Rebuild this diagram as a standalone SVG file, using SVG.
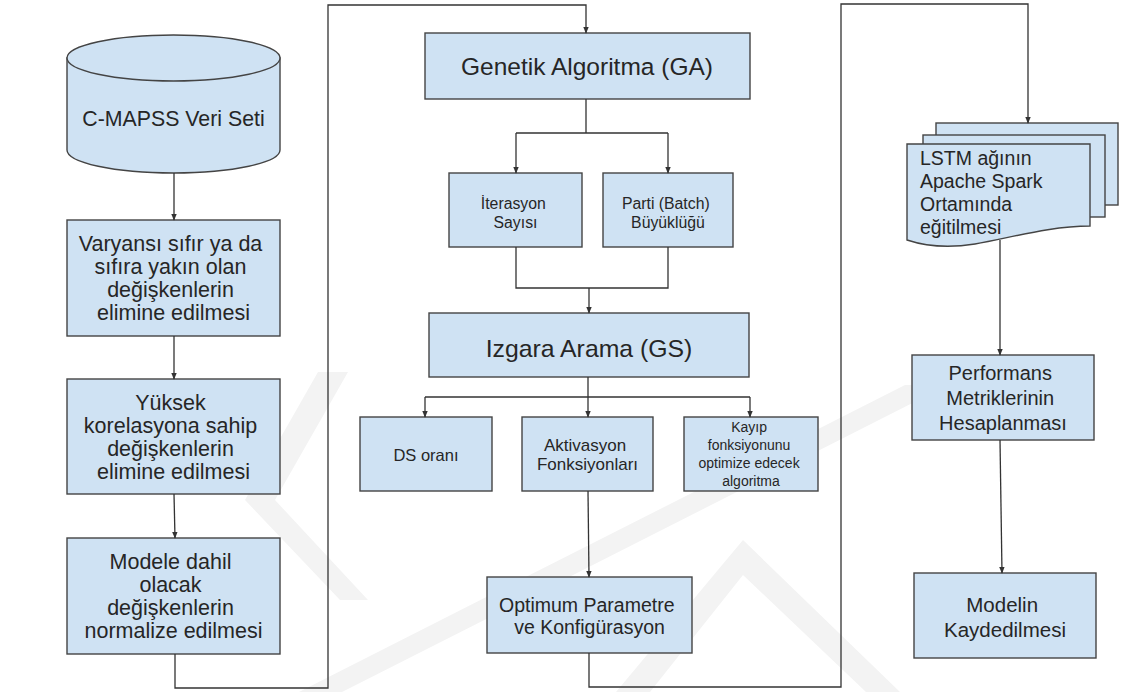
<svg xmlns="http://www.w3.org/2000/svg" width="1121" height="692" viewBox="0 0 1121 692">
  <style>
    .box { fill: #cfe2f3; stroke: #444444; stroke-width: 1.4; }
    .lbl { font-family: "Liberation Sans", Arial, sans-serif; fill: #262626; text-anchor: middle; }
    .lbl-left { font-family: "Liberation Sans", Arial, sans-serif; fill: #262626; text-anchor: start; }
    .conn { fill: none; stroke: #333333; stroke-width: 1.3; }
    .arrow { fill: none; stroke: #333333; stroke-width: 1.3; marker-end: url(#head); }
    .mark { fill: #f3f3f3; }
  </style>
  <defs>
    <marker id="head" viewBox="0 0 10 10" refX="9" refY="5" markerWidth="7" markerHeight="7" markerUnits="userSpaceOnUse" orient="auto">
      <path d="M0,1 L10,5 L0,9 Z" fill="#333333"/>
    </marker>
  </defs>

  <rect width="1121" height="692" fill="#ffffff"/>

  <!-- faint background watermark bands -->
  <g id="watermark">
    <polygon class="mark" points="318,372 348,372 275,500 368,600 340,600 245,500"/>
    <polygon class="mark" points="905,385 948,385 342,692 299,692"/>
    <polygon class="mark" points="743,540 900,692 866,692 743,575 650,692 616,692"/>
  </g>

  <!-- data set cylinder -->
  <g id="cmapss">
    <path class="box" d="M67,58 V150 A106.5,23 0 0 0 280,150 V58 Z"/>
    <ellipse class="box" cx="173.5" cy="58" rx="106.5" ry="23"/>
    <text class="lbl" x="173.5" y="126" font-size="21.3">C-MAPSS Veri Seti</text>
  </g>

  <g id="varyans">
    <rect class="box" x="67" y="220" width="213" height="116"/>
    <text class="lbl" font-size="21.5">
      <tspan x="173.5" y="251">Varyansı sıfır ya da</tspan>
      <tspan x="173.5" y="274">sıfıra yakın olan</tspan>
      <tspan x="173.5" y="297">değişkenlerin</tspan>
      <tspan x="173.5" y="320">elimine edilmesi</tspan>
    </text>
  </g>

  <g id="korelasyon">
    <rect class="box" x="67" y="379" width="213" height="115"/>
    <text class="lbl" font-size="21.5">
      <tspan x="173.5" y="410">Yüksek</tspan>
      <tspan x="173.5" y="433">korelasyona sahip</tspan>
      <tspan x="173.5" y="456">değişkenlerin</tspan>
      <tspan x="173.5" y="479">elimine edilmesi</tspan>
    </text>
  </g>

  <g id="normalize">
    <rect class="box" x="67" y="538" width="213" height="116"/>
    <text class="lbl" font-size="21.5">
      <tspan x="173.5" y="569">Modele dahil</tspan>
      <tspan x="173.5" y="592">olacak</tspan>
      <tspan x="173.5" y="615">değişkenlerin</tspan>
      <tspan x="173.5" y="638">normalize edilmesi</tspan>
    </text>
  </g>

  <g id="ga">
    <rect class="box" x="425" y="33" width="325" height="66"/>
    <text class="lbl" x="587" y="75" font-size="24.5">Genetik Algoritma (GA)</text>
  </g>

  <g id="iterasyon">
    <rect class="box" x="449" y="173" width="133" height="74"/>
    <text class="lbl" font-size="15.8">
      <tspan x="515.5" y="209">İterasyon</tspan>
      <tspan x="515.5" y="228">Sayısı</tspan>
    </text>
  </g>

  <g id="parti">
    <rect class="box" x="603" y="173" width="130" height="74"/>
    <text class="lbl" font-size="15.8">
      <tspan x="668" y="209">Parti (Batch)</tspan>
      <tspan x="668" y="228">Büyüklüğü</tspan>
    </text>
  </g>

  <g id="gs">
    <rect class="box" x="429" y="313" width="320" height="64"/>
    <text class="lbl" x="589" y="357" font-size="24.8">Izgara Arama (GS)</text>
  </g>

  <g id="ds">
    <rect class="box" x="360" y="417" width="132" height="74"/>
    <text class="lbl" x="426" y="461" font-size="16.5">DS oranı</text>
  </g>

  <g id="aktivasyon">
    <rect class="box" x="522" y="417" width="131" height="74"/>
    <text class="lbl" font-size="17">
      <tspan x="587.5" y="451">Aktivasyon</tspan>
      <tspan x="587.5" y="470">Fonksiyonları</tspan>
    </text>
  </g>

  <g id="kayip">
    <rect class="box" x="684" y="417" width="134" height="74"/>
    <text class="lbl" font-size="14">
      <tspan x="751" y="432">Kayıp</tspan>
      <tspan x="751" y="450">fonksiyonunu</tspan>
      <tspan x="751" y="468">optimize edecek</tspan>
      <tspan x="751" y="486">algoritma</tspan>
    </text>
  </g>

  <g id="optimum">
    <rect class="box" x="487" y="577" width="205" height="76"/>
    <text class="lbl" font-size="19.5">
      <tspan x="589.5" y="612">Optimum Parametre</tspan>
      <tspan x="589.5" y="634">ve Konfigürasyon</tspan>
    </text>
  </g>

  <!-- stacked documents -->
  <g id="lstm">
    <rect class="box" x="936" y="123" width="182" height="82"/>
    <rect class="box" x="923" y="135" width="182" height="82"/>
    <path class="box" d="M907,144 H1090 V226 C1050,226 1010,238 975,244 C950,248 925,246 907,240 Z"/>
    <text class="lbl-left" font-size="19.5">
      <tspan x="920" y="165">LSTM ağının</tspan>
      <tspan x="920" y="188">Apache Spark</tspan>
      <tspan x="920" y="211">Ortamında</tspan>
      <tspan x="920" y="234">eğitilmesi</tspan>
    </text>
  </g>

  <g id="performans">
    <rect class="box" x="912" y="355" width="182" height="85"/>
    <text class="lbl" font-size="20">
      <tspan x="1003" y="380">Performans</tspan>
      <tspan x="1003" y="405">Metriklerinin</tspan>
      <tspan x="1003" y="430">Hesaplanması</tspan>
    </text>
  </g>

  <g id="modelin">
    <rect class="box" x="914" y="573" width="182" height="85"/>
    <text class="lbl" font-size="20.5">
      <tspan x="1005" y="612">Modelin</tspan>
      <tspan x="1005" y="637">Kaydedilmesi</tspan>
    </text>
  </g>

  <g id="connectors">
    <path class="arrow" d="M174,173 V220"/>
    <path class="arrow" d="M174,336 V379"/>
    <path class="arrow" d="M174,494 L175,538"/>
    <path class="arrow" d="M175,654 V688 H328 V5 H586 V33"/>
    <path class="conn" d="M586,99 V133 M516,133 H668"/>
    <path class="arrow" d="M516,133 V173"/>
    <path class="arrow" d="M668,133 V173"/>
    <path class="conn" d="M516,247 V288 H668 V247"/>
    <path class="arrow" d="M589,288 V313"/>
    <path class="conn" d="M588,377 V397 M425,397 H750"/>
    <path class="arrow" d="M425,397 V417"/>
    <path class="arrow" d="M588,397 V417"/>
    <path class="arrow" d="M750,397 V417"/>
    <path class="arrow" d="M588,491 L589,577"/>
    <path class="arrow" d="M589,653 V687 H841 V4 H1028 V123"/>
    <path class="arrow" d="M1000,240 V355"/>
    <path class="arrow" d="M1000,440 L1002,573"/>
  </g>
</svg>
